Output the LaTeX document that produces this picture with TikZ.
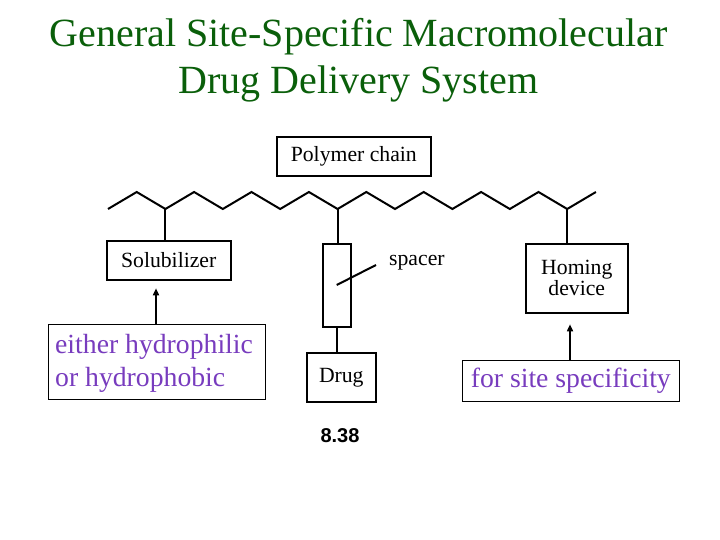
\documentclass[tikz,border=0pt]{standalone}
\usepackage{fontspec}
\setmainfont{Liberation Serif}
\newfontfamily\labsans{Liberation Sans}
\usetikzlibrary{arrows.meta}
\definecolor{titlegreen}{RGB}{10,95,10}
\definecolor{notepurple}{RGB}{120,60,190}
\tikzset{
  figbox/.style={draw=black, line width=2pt, inner sep=0pt, align=center, font=\fontsize{21.7}{21}\selectfont},
  notebox/.style={draw=black, line width=0.9pt, inner sep=0pt, text=notepurple, font=\fontsize{27.7}{33}\selectfont},
  bond/.style={line width=2pt, line join=miter},
  notearrow/.style={line width=1.6pt, -{Triangle[length=7pt,width=6pt]}}
}
\begin{document}
\begin{tikzpicture}[x=1pt,y=-1pt]
\useasboundingbox (0,0) rectangle (720,540);
% title (base anchor = baseline of last line)
\node[text=titlegreen, font=\fontsize{40}{47}\selectfont, align=center, anchor=base] (title) at (358.5,94) {General Site-Specific Macromolecular\\Drug Delivery System};
% boxes
\node[figbox, minimum width=154.3pt, minimum height=39pt] (poly) at (353.8,156.2) {Polymer chain};
\node[figbox, minimum width=124pt, minimum height=39pt] (sol) at (168.7,260.5) {Solubilizer};
\node[draw=black, line width=2pt, minimum width=28.3pt, minimum height=82.7pt, inner sep=0pt] (spc) at (336.8,285.3) {};
\node[figbox, minimum width=69.3pt, minimum height=48.4pt] (drug) at (341.3,377.5) {Drug};
\node[figbox, minimum width=101.7pt, minimum height=68.7pt] (hom) at (576.8,278.3) {Homing\\device};
\node[font=\fontsize{21.7}{21}\selectfont, anchor=west, inner sep=0pt] (spl) at (389,263) {spacer};
\node[font=\labsans\bfseries\fontsize{20}{20}\selectfont, inner sep=0pt] (num) at (340,436) {8.38};
% note boxes
\node[notebox, minimum width=217.4pt, minimum height=75pt] (nl) at (157,361.8) {};
\node[text=notepurple, font=\fontsize{27.7}{33.5}\selectfont, align=left, anchor=base west, inner sep=0pt] (nlt) at (55,386.7) {either hydrophilic\\or hydrophobic};
\node[notebox, minimum width=217pt, minimum height=41pt] (nr) at (570.8,381.2) {for site specificity};
% polymer chain zigzag
\foreach \i in {0,...,17}{
  \pgfmathsetmacro{\xx}{108+28.7*\i}
  \pgfmathsetmacro{\yy}{mod(\i,2)==0 ? 209 : 192}
  \coordinate (z\i) at (\xx,\yy);
}
\draw[bond] (z0) \foreach \i in {1,...,17}{ -- (z\i)};
% branches
\draw[bond] (z2) -- (z2 |- sol.north);
\draw[bond] (z8) -- (z8 |- spc.north);
\draw[bond] (z16) -- (z16 |- hom.north);
\draw[bond] (spc.south) -- (spc.south |- drug.north);
% spacer diagonal
\coordinate (d1) at (336.7,285);
\coordinate (d2) at (376,265);
\draw[line width=2pt] (d1) -- (d2);
% note arrows
\coordinate (al) at (156,324.3);
\coordinate (ar) at (570,360.7);
\draw[notearrow] (al) -- (al |- 0,288.3);
\draw[notearrow] (ar) -- (ar |- 0,324.3);
\end{tikzpicture}
\end{document}
